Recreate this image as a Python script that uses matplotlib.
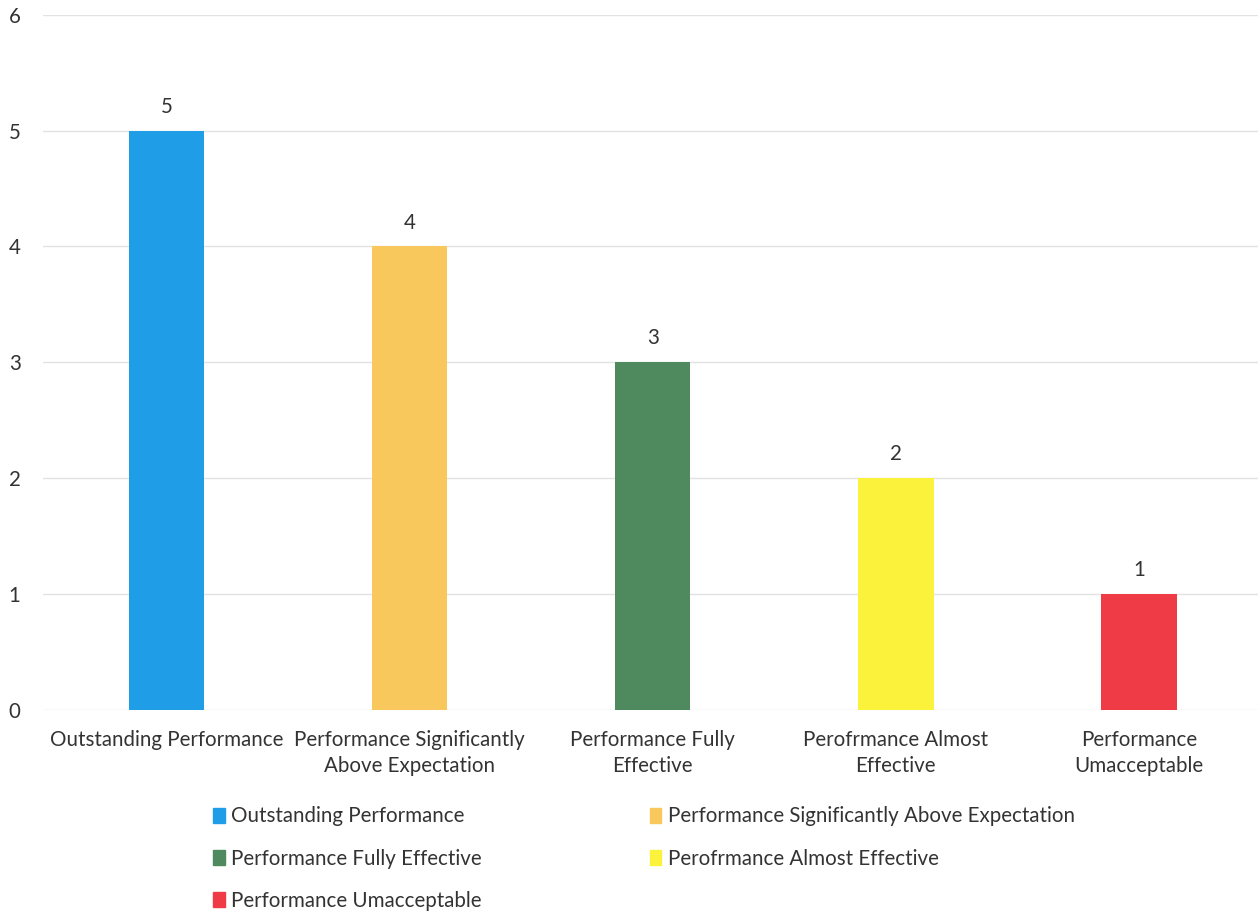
import matplotlib
matplotlib.use('Agg')
from matplotlib import pyplot as plt
from matplotlib.patches import Patch

categories = ['Outstanding Performance',
              'Performance Significantly\nAbove Expectation',
              'Performance Fully\nEffective',
              'Perofrmance Almost\nEffective',
              'Performance\nUmacceptable']
legend_names = ['Outstanding Performance',
                'Performance Significantly Above Expectation',
                'Performance Fully Effective',
                'Perofrmance Almost Effective',
                'Performance Umacceptable']
values = [5, 4, 3, 2, 1]
colors = ['#1f9de6', '#f8c85c', '#4f8a5f', '#fbf23c', '#ee3b46']

def main():
	plt.rcParams['font.family'] = ['Lato', 'DejaVu Sans']
	fs = 14.8
	fig = plt.figure(figsize=(12.58, 9.14), dpi=100)
	ax = fig.add_axes([0.034, 0.223, 0.966, 0.761])
	x = range(len(values))
	bars = ax.bar(x, values, width=0.31, color=colors, zorder=2)
	for b, v in zip(bars, values):
		ax.text(b.get_x()+b.get_width()/2, v+0.12, str(v), ha='center', va='bottom',
				fontsize=fs, color='#333333')
	ax.set_xlim(-0.51, 4.49)
	ax.set_ylim(0, 6)
	ax.set_yticks(range(7))
	ax.yaxis.grid(True, color='#e2e2e2', linewidth=1, zorder=0)
	ax.set_xticks(list(x))
	ax.set_xticklabels(categories, fontsize=fs, color='#333333', linespacing=1.4)
	ax.tick_params(axis='y', labelsize=fs, labelcolor='#333333', length=0, pad=16)
	ax.tick_params(axis='x', length=0, pad=14)
	for s in ax.spines.values():
		s.set_visible(False)
	order = [0, 2, 4, 1, 3]
	handles = [Patch(color=colors[i], label=legend_names[i]) for i in order]
	fig.legend(handles=handles, ncol=2, loc='upper left', bbox_to_anchor=(0.155, 0.138),
			   frameon=False, fontsize=fs, handlelength=0.55, handleheight=0.75,
			   handletextpad=0.3, columnspacing=8.2, labelspacing=1.08,
			   labelcolor='#333333')
	fig.savefig('out.png', dpi=100)
	return 0

if __name__ == '__main__':
	main()
